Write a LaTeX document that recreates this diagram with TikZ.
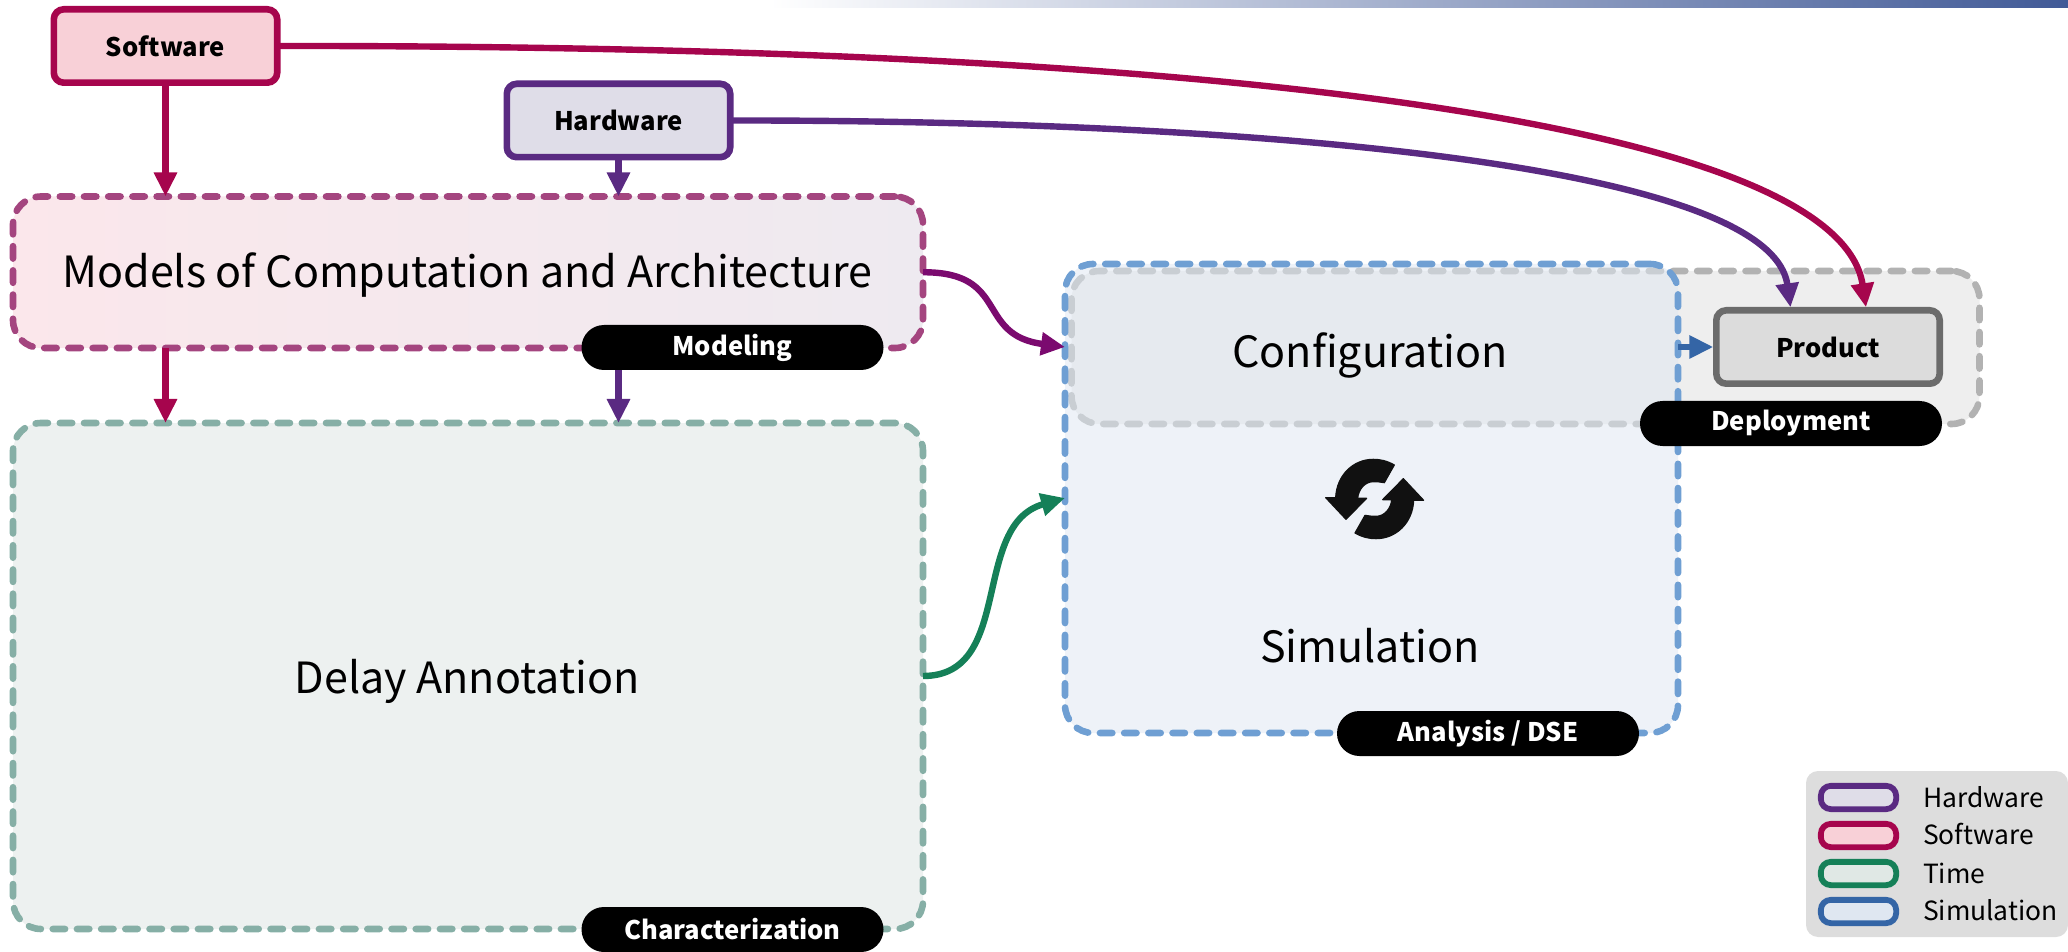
\documentclass[tikz,border=0pt]{standalone}
\usepackage{fontspec}
\setmainfont{Noto Sans CJK SC}
\usetikzlibrary{arrows.meta,shapes.misc}
\definecolor{cSoft}{HTML}{A6054D}
\definecolor{cHard}{HTML}{5A2A82}
\definecolor{cTime}{HTML}{158058}
\definecolor{cSim}{HTML}{3465A6}
\definecolor{cMix}{HTML}{7B0A6F}
\definecolor{fSoft}{HTML}{F8D0D7}
\definecolor{fHard}{HTML}{DFDDE8}
\definecolor{fTime}{HTML}{E0E8E5}
\definecolor{fSim}{HTML}{DFE7F1}
\definecolor{barMid}{HTML}{C8C8E0}
\definecolor{barEnd}{HTML}{415A97}
\definecolor{dMod}{HTML}{A4457F}
\definecolor{dDelay}{HTML}{86AFA6}
\definecolor{dSim}{HTML}{6F9FD3}
\definecolor{dDep}{HTML}{B2B2B2}
\definecolor{fDep}{HTML}{EEEEEE}
\definecolor{fDelay}{HTML}{EDF1F0}
\definecolor{fModL}{HTML}{FBE7EB}
\definecolor{fModR}{HTML}{EEEAF0}
\definecolor{fProd}{HTML}{DCDCDC}
\definecolor{dProd}{HTML}{6B6B6B}
\definecolor{fLeg}{HTML}{DDDDDD}
\definecolor{cIcon}{HTML}{111111}
\tikzset{
  x=0.5pt,y=-0.5pt,
  every node/.style={inner sep=0pt,outer sep=0pt},
  solidbox/.style={draw,line width=3.3pt,rounded corners=5pt,minimum width=111.7pt,minimum height=36.7pt,font=\fontsize{12.8}{13}\selectfont\bfseries},
  phase/.style={line width=3.3pt,rounded corners=14pt,line cap=round,dash pattern=on 6.2pt off 5.9pt},
  pill/.style={fill=black,text=white,rounded rectangle,minimum width=151pt,minimum height=22.5pt,font=\fontsize{12.8}{13}\selectfont\bfseries},
  big/.style={font=\fontsize{21.5}{22}\selectfont},
  swatch/.style={draw,line width=2.9pt,rounded corners=5pt,minimum width=37.65pt,minimum height=11.65pt},
  legtext/.style={anchor=west,font=\fontsize{13.2}{14}\selectfont},
  link/.style={line width=3.2pt,-{Triangle[length=12pt,width=11pt]}},
  iconshape/.style={fill=cIcon,draw=cIcon,line width=0.6pt,line join=round},
}
\begin{document}
\begin{tikzpicture}
\useasboundingbox (0,0) rectangle (2068,952);
% top bar
\shade[left color=white,middle color=barMid,right color=barEnd] (770,0) rectangle (2068,8);

% phase boxes
\node[phase,draw=dDep,fill=fDep,minimum width=454pt,minimum height=76.5pt] (deploy) at (1525.5,347.5) {};
\node[phase,draw=none,fill=fSim,fill opacity=0.53,minimum width=306.5pt,minimum height=234.5pt] (sim) at (1371.5,498.5) {};
\node[phase,fill=none,draw=dSim,minimum width=306.5pt,minimum height=234.5pt] (simline) at (1371.5,498.5) {};
\node[phase,draw=dMod,left color=fModL,right color=fModR,minimum width=455pt,minimum height=75.75pt] (models) at (468,272.25) {};
\node[phase,draw=dDelay,fill=fDelay,minimum width=455pt,minimum height=253pt] (delay) at (468,676) {};

% titles
\node[big] (tModels) at (467.5,275) {Models of Computation and Architecture};
\node[big] (tDelay) at (467,681) {Delay Annotation};
\node[big] (tConfig) at (1370,355) {Configuration};
\node[big] (tSim) at (1370,646) {Simulation};

% entity boxes
\node[solidbox,draw=cSoft,fill=fSoft] (soft) at (165.5,46) {Software};
\node[solidbox,draw=cHard,fill=fHard] (hard) at (618.5,120.5) {Hardware};
\node[solidbox,draw=dProd,fill=fProd] (prod) at (1828,347) {Product};

% connectors
\draw[link,cSoft] (soft.south) -- (soft.south |- models.north);
\draw[link,cHard] (hard.south) -- (hard.south |- models.north);
\draw[link,cSoft] (soft.south |- models.south) -- (soft.south |- delay.north);
\draw[link,cHard] (hard.south |- models.south) -- (hard.south |- delay.north);
\draw[link,cSoft] (soft.east) .. controls (1300,45) and (1840,135) .. ([xshift=19pt,yshift=1.5pt]prod.north);
\draw[link,cHard] (hard.east) .. controls (1220,120) and (1770,160) .. ([xshift=-18.75pt,yshift=1.5pt]prod.north);
\draw[link,cMix] (models.east) .. controls (1010,272) and (975,335) .. (sim.west |- prod.west);
\draw[link,cTime] (delay.east) .. controls (1015,676) and (970,525) .. (1065,498);
\draw[link,cSim] (sim.east |- prod.west) -- ([xshift=-1.5pt]prod.west);

% refresh icon
\begin{scope}[shift={(1290,430)},scale=0.3333]
\path[iconshape] (313,105) .. controls (290,92) and (270,88) .. (250,88) .. controls (190,88) and (140,135) .. (137,203) -- (107,203) -- (168,268) -- (230,205) -- (203,205) .. controls (205,178) and (225,155) .. (250,155) .. controls (262,155) and (272,156) .. (283,158) -- cycle;
\end{scope}
\begin{scope}[shift={(1459.33,568)},scale=-0.3333]
\path[iconshape] (313,105) .. controls (290,92) and (270,88) .. (250,88) .. controls (190,88) and (140,135) .. (137,203) -- (107,203) -- (168,268) -- (230,205) -- (203,205) .. controls (205,178) and (225,155) .. (250,155) .. controls (262,155) and (272,156) .. (283,158) -- cycle;
\end{scope}

% phase labels
\node[pill] (pModel) at (732.5,347.5) {Modeling};
\node[pill] (pChar) at (732.5,929.5) {Characterization};
\node[pill] (pDeploy) at (1791,423.5) {Deployment};
\node[pill] (pDSE) at (1488,733.5) {Analysis / DSE};

% legend
\fill[fLeg,rounded corners=6pt] (1806,771) rectangle (2068,937);
\node[swatch,draw=cHard,fill=fHard] (lgA) at (1858.5,797.5) {};
\node[swatch,draw=cSoft,fill=fSoft] (lgB) at (1858.5,835.5) {};
\node[swatch,draw=cTime,fill=fTime] (lgC) at (1858.5,873.5) {};
\node[swatch,draw=cSim,fill=fSim] (lgD) at (1858.5,911.5) {};
\node[legtext] (ltA) at (1923,797) {Hardware};
\node[legtext] (ltB) at (1923,834) {Software};
\node[legtext] (ltC) at (1923,873) {Time};
\node[legtext] (ltD) at (1923,910) {Simulation};
\end{tikzpicture}
\end{document}
